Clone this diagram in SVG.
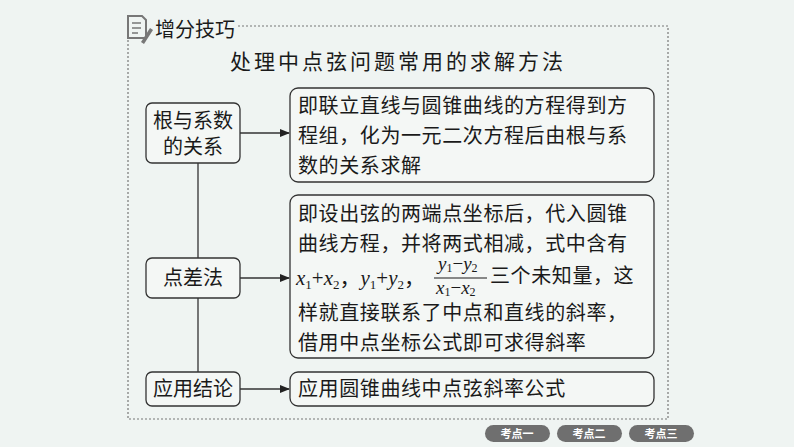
<svg xmlns="http://www.w3.org/2000/svg" width="794" height="447" viewBox="0 0 794 447">
<style>
.bg{fill:#eff4f2}
.t{font-family:"Noto Sans CJK SC","Liberation Sans",sans-serif;fill:#1a1a1a}
.s{font-family:"Liberation Serif","Noto Sans CJK SC",serif;fill:#1a1a1a}
.box{fill:#f4f7f5;stroke:#333;stroke-width:1.3}
.c{stroke:#333;stroke-width:1.3;fill:none}
.pill{fill:#6f6f6f}
.pt{font-family:"Noto Sans CJK SC",sans-serif;fill:#fff;font-size:11px;font-weight:bold}
</style>
<defs><marker id="a" markerWidth="10" markerHeight="8" refX="9" refY="4" orient="auto" markerUnits="userSpaceOnUse"><path d="M0,0L10,4L0,8z" fill="#222"/></marker></defs>
<rect class="bg" width="794" height="447"/>
<g id="frame">
<path d="M128,40V419H668V26H236" fill="none" stroke="#777" stroke-width="1.2" stroke-dasharray="2,2"/>
<path d="M128,16h14l4,4v18h-18z" fill="none" stroke="#777" stroke-width="2"/>
<path d="M132,23h9M132,28h9M132,33h6" stroke="#777" stroke-width="1.5"/>
<path d="M141,42l9,-14l3,2l-9,14z" fill="#777"/>
<text class="t" x="155" y="37" font-size="20" fill="#222">增分技巧</text>
<text class="t" x="398" y="69" font-size="21" text-anchor="middle" letter-spacing="3">处理中点弦问题常用的求解方法</text>
</g>
<g id="connectors">
<path class="c" d="M198,163V258M198,298V372"/>
<path class="c" d="M240,133H289" marker-end="url(#a)"/>
<path class="c" d="M240,278H289" marker-end="url(#a)"/>
<path class="c" d="M240,389H289" marker-end="url(#a)"/>
</g>
<g id="n1"><rect class="box" x="146" y="103" width="94" height="60" rx="6"/>
<text class="t" x="193" y="128" font-size="20" text-anchor="middle">根与系数</text>
<text class="t" x="193" y="154" font-size="20" text-anchor="middle">的关系</text></g>
<g id="n2"><rect class="box" x="146" y="258" width="94" height="40" rx="6"/>
<text class="t" x="193" y="285" font-size="20" text-anchor="middle">点差法</text></g>
<g id="n3"><rect class="box" x="146" y="372" width="94" height="34" rx="6"/>
<text class="t" x="193" y="396" font-size="20" text-anchor="middle">应用结论</text></g>
<g id="r1"><rect class="box" x="290" y="88" width="364" height="94" rx="8"/>
<g class="t" font-size="20" letter-spacing="0.6"><text x="298" y="113">即联立直线与圆锥曲线的方程得到方</text>
<text x="298" y="143">程组，化为一元二次方程后由根与系</text>
<text x="298" y="173">数的关系求解</text></g></g>
<g id="r2"><rect class="box" x="290" y="195" width="364" height="163" rx="8"/>
<g class="t" font-size="20" letter-spacing="0.6"><text x="298" y="221">即设出弦的两端点坐标后，代入圆锥</text>
<text x="298" y="251">曲线方程，并将两式相减，式中含有</text>
<text x="490" y="283">三个未知量，这</text>
<text x="298" y="320">样就直接联系了中点和直线的斜率，</text>
<text x="298" y="350">借用中点坐标公式即可求得斜率</text></g>
<g class="s" font-size="21" font-style="italic">
<text x="296" y="285">x<tspan font-size="13" font-style="normal" dy="4">1</tspan><tspan dy="-4" font-style="normal">+</tspan>x<tspan font-size="13" font-style="normal" dy="4">2</tspan><tspan dy="-4" font-style="normal" font-family="Noto Sans CJK SC">，</tspan>y<tspan font-size="13" font-style="normal" dy="4">1</tspan><tspan dy="-4" font-style="normal">+</tspan>y<tspan font-size="13" font-style="normal" dy="4">2</tspan><tspan dy="-4" font-style="normal" font-family="Noto Sans CJK SC">，</tspan></text>
<text x="438" y="270" font-size="19">y<tspan font-size="12" font-style="normal" dy="2">1</tspan><tspan dy="-2" font-style="normal">−</tspan>y<tspan font-size="12" font-style="normal" dy="2">2</tspan></text>
<text x="436" y="294" font-size="19">x<tspan font-size="12" font-style="normal" dy="2">1</tspan><tspan dy="-2" font-style="normal">−</tspan>x<tspan font-size="12" font-style="normal" dy="2">2</tspan></text>
</g>
<path d="M434,278H487" stroke="#1a1a1a" stroke-width="1.2"/></g>
<g id="r3"><rect class="box" x="290" y="372" width="364" height="34" rx="8"/>
<text class="t" x="298" y="396" font-size="20" letter-spacing="0.6">应用圆锥曲线中点弦斜率公式</text></g>
<g id="nav">
<rect class="pill" x="485" y="425" width="65" height="17" rx="8.5"/><text class="pt" x="517" y="438" text-anchor="middle">考点一</text>
<rect class="pill" x="557" y="425" width="65" height="17" rx="8.5"/><text class="pt" x="589" y="438" text-anchor="middle">考点二</text>
<rect class="pill" x="629" y="425" width="65" height="17" rx="8.5"/><text class="pt" x="661" y="438" text-anchor="middle">考点三</text>
</g>
</svg>
